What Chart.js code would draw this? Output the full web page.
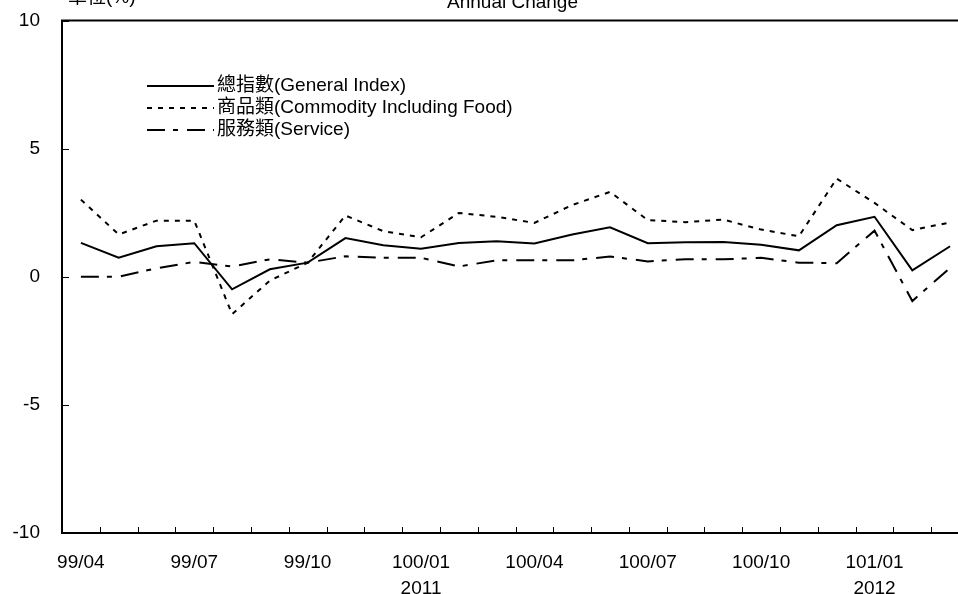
<!DOCTYPE html>
<html>
<head>
<meta charset="utf-8">
<script src="https://cdn.jsdelivr.net/npm/chart.js@4"></script>
<style>
  html, body { margin: 0; padding: 0; background: #fff; overflow: hidden; }
  #wrap { width: 975px; height: 594px; }
</style>
</head>
<body>
<div id="wrap"><canvas id="c" width="975" height="594"></canvas></div>
<script>
const months = ['99/04','99/05','99/06','99/07','99/08','99/09','99/10','99/11','99/12',
  '100/01','100/02','100/03','100/04','100/05','100/06','100/07','100/08','100/09','100/10','100/11','100/12',
  '101/01','101/02','101/03']
const tickLabels = ['99/04','','','99/07','','','99/10','','',['100/01','2011'],'','',
  '100/04','','','100/07','','','100/10','','',['101/01','2012'],'','']
const general = [1.32, 0.74, 1.19, 1.31, -0.49, 0.29, 0.55, 1.51, 1.23, 1.09, 1.32, 1.39,
  1.30, 1.65, 1.93, 1.31, 1.35, 1.36, 1.25, 1.03, 2.01, 2.34, 0.25, 1.19]
const commodity = [3.01, 1.65, 2.19, 2.19, -1.46, -0.15, 0.55, 2.39, 1.78, 1.54, 2.49, 2.34,
  2.10, 2.80, 3.31, 2.21, 2.13, 2.23, 1.84, 1.58, 3.83, 2.88, 1.82, 2.12]
const service = [0.00, 0.00, 0.33, 0.58, 0.40, 0.68, 0.55, 0.80, 0.74, 0.74, 0.40, 0.64,
  0.64, 0.64, 0.79, 0.60, 0.68, 0.68, 0.74, 0.55, 0.53, 1.80, -0.95, 0.35]
const yTicks = [-10, -5, 0, 5, 10]
const seriesNames = ['總指數(General Index)', '商品類(Commodity Including Food)', '服務類(Service)']

const FONT = '"Liberation Sans", Arial, "Noto Sans CJK TC", sans-serif'

// inward tick marks, frame top edge, legend and header text
const decor = {
  id: 'decor',
  afterDraw(chart) {
    const ctx = chart.ctx
    const a = chart.chartArea
    const x = chart.scales.x, y = chart.scales.y
    ctx.save()
    ctx.strokeStyle = '#000'
    ctx.lineWidth = 2
    ctx.beginPath()
    ctx.moveTo(a.left - 1, a.top)
    ctx.lineTo(a.right + 1, a.top)
    ctx.moveTo(a.right, a.top)
    ctx.lineTo(a.right, a.bottom)
    ctx.stroke()

    ctx.lineWidth = 1
    ctx.beginPath()
    for (let i = 1; i < months.length; i++) {
      const px = Math.round((x.getPixelForValue(i - 1) + x.getPixelForValue(i)) / 2) + 0.5
      ctx.moveTo(px, a.bottom)
      ctx.lineTo(px, a.bottom - 6)
    }
    yTicks.forEach(v => {
      const py = Math.round(y.getPixelForValue(v)) + 0.5
      ctx.moveTo(a.left, py)
      ctx.lineTo(a.left + 7, py)
    })
    ctx.stroke()

    // legend
    ctx.font = '19px ' + FONT
    ctx.fillStyle = '#000'
    ctx.textBaseline = 'middle'
    ctx.textAlign = 'left'
    chart.data.datasets.forEach((ds, i) => {
      const ly = 86 + i * 22
      ctx.lineWidth = 2
      ctx.setLineDash(ds.borderDash || [])
      ctx.beginPath()
      ctx.moveTo(147, ly)
      ctx.lineTo(214, ly)
      ctx.stroke()
      ctx.setLineDash([])
      ctx.fillText(ds.label, 217, ly)
    })

    // header (cut off at the top of the picture)
    ctx.textBaseline = 'alphabetic'
    ctx.fillText('單位(%)', 68, 3)
    ctx.textAlign = 'right'
    ctx.fillText('Annual Change', 578, 8)
    ctx.restore()
  }
}

new Chart(document.getElementById('c'), {
  type: 'line',
  data: {
    labels: months,
    datasets: [
      { label: seriesNames[0], data: general, borderColor: '#000', borderWidth: 2, borderDash: [] },
      { label: seriesNames[1], data: commodity, borderColor: '#000', borderWidth: 2, borderDash: [5, 6] },
      { label: seriesNames[2], data: service, borderColor: '#000', borderWidth: 2, borderDash: [18, 8, 5, 9] }
    ]
  },
  options: {
    responsive: false,
    animation: false,
    devicePixelRatio: 1,
    layout: { padding: { top: 20.5, right: 6, left: 0, bottom: 0 } },
    elements: { point: { radius: 0 }, line: { tension: 0, fill: false } },
    plugins: { legend: { display: false }, tooltip: { enabled: false } },
    scales: {
      x: {
        type: 'category',
        offset: true,
        grid: { display: false, drawTicks: false },
        border: { display: true, color: '#000', width: 2 },
        ticks: {
          autoSkip: false, maxRotation: 0, color: '#000', padding: 17,
          font: { family: FONT, size: 19, lineHeight: 1.35 },
          callback: (v, i) => tickLabels[i]
        },
        afterFit: s => { s.height = 61; s.paddingLeft = 0; s.paddingRight = 0 }
      },
      y: {
        min: -10,
        max: 10,
        afterBuildTicks: s => { s.ticks = yTicks.map(v => ({ value: v })) },
        grid: { display: false, drawTicks: false },
        border: { display: true, color: '#000', width: 2 },
        ticks: { color: '#000', padding: 22, font: { family: FONT, size: 19 } },
        afterFit: s => { s.width = 62; s.paddingTop = 0; s.paddingBottom = 0 }
      }
    }
  },
  plugins: [decor]
})
</script>
</body>
</html>
